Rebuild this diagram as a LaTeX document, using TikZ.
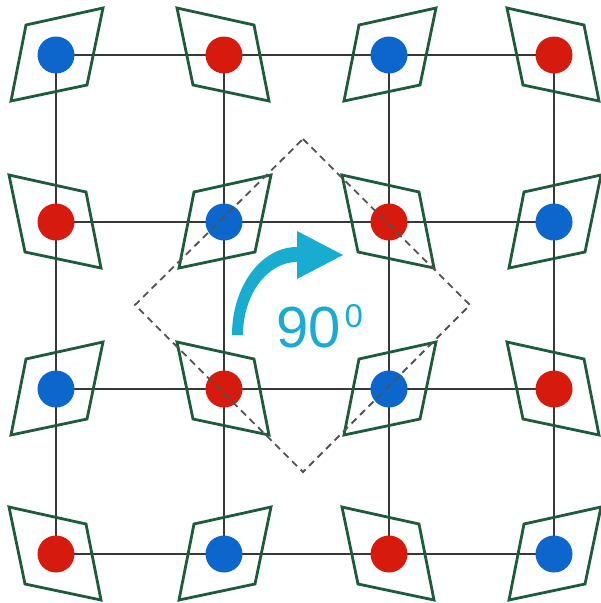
\documentclass[tikz,border=0pt]{standalone}
\usepackage{fontspec}
\setmainfont{Liberation Sans}
\usepackage{tikz}
\usetikzlibrary{calc}

\definecolor{dotblue}{RGB}{12,102,204}
\definecolor{dotred}{RGB}{214,26,14}
\definecolor{framegreen}{RGB}{28,92,58}
\definecolor{turncyan}{RGB}{24,172,208}

\begin{document}
\begin{tikzpicture}[
			x=1pt, y=-1pt,
			grid/.style={line width=1.4pt, draw=black!78},
			frame/.style={line width=2.8pt, draw=framegreen, line join=miter},
			dot/.style={circle, inner sep=0pt, minimum size=37pt},
			bluedot/.style={dot, fill=dotblue},
			reddot/.style={dot, fill=dotred},
			cellline/.style={dash pattern=on 7pt off 5pt, line width=1.8pt, draw=black!68},
			turn/.style={fill=turncyan}
			]
			\useasboundingbox (0,0) rectangle (601,603);
			
			% lattice points: column i, row j
			\foreach \i/\x in {1/56,2/224,3/389,4/554}{
				\foreach \j/\y in {1/55,2/222,3/389,4/554}{
					\coordinate (p\i\j) at (\x,\y);
				}
			}
			
			% grid lines
			\foreach \k in {1,...,4}{
				\draw[grid] (p1\k) -- (p4\k);
				\draw[grid] (p\k1) -- (p\k4);
			}
			
			% tilted frames (mirrored on red sites)
			\foreach \i in {1,...,4}{
				\foreach \j in {1,...,4}{
					\pgfmathsetmacro{\pty}{int(mod(\i+\j,2))}
					\pgfmathsetmacro{\s}{1-2*\pty}
					\draw[frame, shift={(p\i\j)}, xscale=\s]
					(-30,-30) -- (47,-47) -- (31,30) -- (-45,46) -- cycle;
				}
			}
			
			% atoms
			\foreach \i in {1,...,4}{
				\foreach \j in {1,...,4}{
					\pgfmathsetmacro{\pty}{int(mod(\i+\j,2))}
					\ifnum\pty=0
					\node[bluedot] (d\i\j) at (p\i\j) {};
					\else
					\node[reddot] (d\i\j) at (p\i\j) {};
					\fi
				}
			}
			
			% rotated cell (dashed)
			\coordinate (c) at (303,305);
			\draw[cellline] ($(c)+(0,-166)$) -- ($(c)+(167,0)$) -- ($(c)+(0,167)$)
			-- ($(c)+(-168,0)$) -- cycle;
			
			% rotation arrow
			\fill[turn] (232,335) arc[start angle=180, end angle=270, x radius=65, y radius=88]
			-- (297,262) arc[start angle=270, end angle=180, x radius=54, y radius=73] -- cycle;
			\fill[turn] (297,231) -- (343,255) -- (297,279) -- cycle;
			
			% angle label
			\node[anchor=base west, inner sep=0pt, text=turncyan,
			font=\fontsize{58}{58}\selectfont] (angle) at (276,347)
			{90\kern4pt\raisebox{20pt}{\fontsize{33}{33}\selectfont 0}};
			
		\end{tikzpicture}
\end{document}
